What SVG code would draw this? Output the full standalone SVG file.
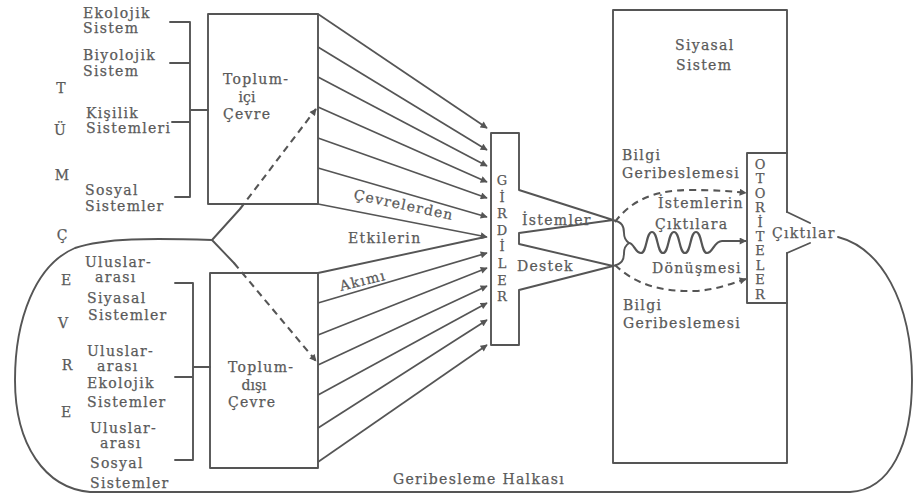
<svg xmlns="http://www.w3.org/2000/svg" width="913" height="501" viewBox="0 0 913 501">
<style>
.ln{fill:none;stroke:#555555;stroke-width:1.9;stroke-linecap:round;stroke-linejoin:round}
.ar{fill:none;stroke:#555555;stroke-width:1.7;marker-end:url(#ah)}
.wv{fill:none;stroke:#555555;stroke-width:2.2;marker-end:url(#ah)}
.ds{fill:none;stroke:#555555;stroke-width:2.1;stroke-dasharray:7,5;marker-end:url(#ah)}
text{font-family:"DejaVu Serif","Liberation Serif",serif;font-size:14px;fill:#5a5a5a;stroke:#5a5a5a;stroke-width:0.25;letter-spacing:1.3px}
.v{text-anchor:middle;letter-spacing:0}
.vt{writing-mode:vertical-rl;text-orientation:upright;font-size:13px}
</style>
<defs>
<marker id="ah" viewBox="0 0 10 10" refX="9" refY="5" markerWidth="8" markerHeight="7" markerUnits="userSpaceOnUse" orient="auto">
<path d="M0,0 L10,5 L0,10 Z" fill="#555555"/>
</marker>
</defs>
<rect width="913" height="501" fill="#ffffff"/>

<g id="tum-cevre">
<text class="v" x="61" y="93">T</text>
<text class="v" x="60" y="135">Ü</text>
<text class="v" x="62" y="180">M</text>
<text class="v" x="62" y="240">Ç</text>
<text class="v" x="66" y="285">E</text>
<text class="v" x="63" y="328">V</text>
<text class="v" x="67" y="370">R</text>
<text class="v" x="66" y="417">E</text>
</g>

<g id="ic-sistemler">
<text x="83" y="18">Ekolojik</text>
<text x="83" y="33">Sistem</text>
<text x="83" y="60">Biyolojik</text>
<text x="83" y="76">Sistem</text>
<text x="86" y="118">Kişilik</text>
<text x="86" y="133">Sistemleri</text>
<text x="85" y="195">Sosyal</text>
<text x="85" y="211">Sistemler</text>
<path class="ln" d="M170,22 H190 V197 H175 M170,63 H190 M172,122 H190 M190,110 H208"/>
</g>

<g id="dis-sistemler">
<text x="85" y="267">Uluslar-</text>
<text x="95" y="282">arası</text>
<text x="87" y="303">Siyasal</text>
<text x="88" y="320">Sistemler</text>
<text x="87" y="356">Uluslar-</text>
<text x="97" y="371">arası</text>
<text x="87" y="388">Ekolojik</text>
<text x="87" y="407">Sistemler</text>
<text x="90" y="433">Uluslar-</text>
<text x="100" y="448">arası</text>
<text x="90" y="468">Sosyal</text>
<text x="90" y="488">Sistemler</text>
<path class="ln" d="M175,283 H193 V460 H175 M175,377 H193 M193,367 H210"/>
</g>

<g id="toplum-ici">
<rect class="ln" x="208" y="14" width="110" height="190"/>
<text x="223" y="84">Toplum-</text>
<text x="247" y="102" class="v">içi</text>
<text x="223" y="119">Çevre</text>
</g>

<g id="toplum-disi">
<rect class="ln" x="210" y="273" width="108" height="195"/>
<text x="228" y="372">Toplum-</text>
<text x="254" y="390" class="v">dışı</text>
<text x="228" y="407">Çevre</text>
</g>

<g id="girdiler">
<path class="ln" d="M519,190 V133 H491 V345 H519 V290 L613,266 L519,244 V233 L613,220 L519,190"/>
<text class="vt" x="502" y="173" style="letter-spacing:1.6px">GİRDİLER</text>
<text x="522" y="225">İstemler</text>
<text x="517" y="271">Destek</text>
</g>

<g id="siyasal-sistem">
<path class="ln" d="M787,212 V10 H613 V463 H787 V253"/>
<text x="675" y="50">Siyasal</text>
<text x="676" y="70">Sistem</text>
<text x="622" y="160">Bilgi</text>
<text x="622" y="178">Geribeslemesi</text>
<text x="658" y="208">İstemlerin</text>
<text x="655" y="229">Çıktılara</text>
<text x="652" y="273">Dönüşmesi</text>
<text x="623" y="310">Bilgi</text>
<text x="623" y="328">Geribeslemesi</text>
</g>

<g id="otoriteler">
<path class="ln" d="M787,153 H747 V303 H787 M787,212 L810,223 M810,243 L787,253"/>
<text class="vt" x="760" y="157" style="letter-spacing:-0.6px">OTORİTELER</text>
<text x="772" y="238">Çıktılar</text>
</g>

<g id="connectors">
<path class="ar" d="M318,14 L487,128"/>
<path class="ar" d="M318,47 L487,150"/>
<path class="ar" d="M318,77 L487,166"/>
<path class="ar" d="M318,107 L487,182"/>
<path class="ar" d="M318,138 L487,198"/>
<path class="ar" d="M318,168 L487,217"/>
<path class="ar" d="M318,204 L487,237"/>
<path class="ln" d="M318,273 L485,237"/>
<path class="ar" d="M318,303 L487,253"/>
<path class="ar" d="M318,335 L487,268"/>
<path class="ar" d="M318,365 L487,286"/>
<path class="ar" d="M318,395 L487,303"/>
<path class="ar" d="M318,428 L487,320"/>
<path class="ar" d="M318,462 L487,345"/>
<path class="ln" d="M240,209 L212,240 L234,263"/>
<path class="ds" d="M240,209 L316,109"/>
<path class="ds" d="M234,263 L316,361"/>
<path class="ln" d="M212,240 C150,238 105,238 75,248 C35,265 15,320 15,380 C15,445 45,488 90,492 L850,492 C890,490 912,445 912,380 C912,300 880,248 838,237"/>
<path class="ln" d="M613,220 C622,222 624,226 624,233 C624,238 626,241 629,243 C626,245 624,248 624,253 C624,260 622,264 613,266"/>
<path class="wv" d="M629,243 C634,243 635,253 641,253 C647,253 646,232 652,232 C658,232 657,253 663,253 C669,253 668,232 674,232 C680,232 679,253 685,253 C691,253 690,232 696,232 C702,232 701,253 707,253 C713,253 714,241 722,241 L746,241"/>
<path class="ds" d="M615,222 C630,202 652,190 690,190 C715,190 730,191 746,193"/>
<path class="ds" d="M615,265 C635,284 660,292 695,291 C715,290 730,284 746,279"/>
<text x="0" y="0" transform="translate(353,199) rotate(12)">Çevrelerden</text>
<text x="348" y="243">Etkilerin</text>
<text x="0" y="0" transform="translate(341,291) rotate(-14)">Akımı</text>
<text x="393" y="484">Geribesleme Halkası</text>
</g>
</svg>
